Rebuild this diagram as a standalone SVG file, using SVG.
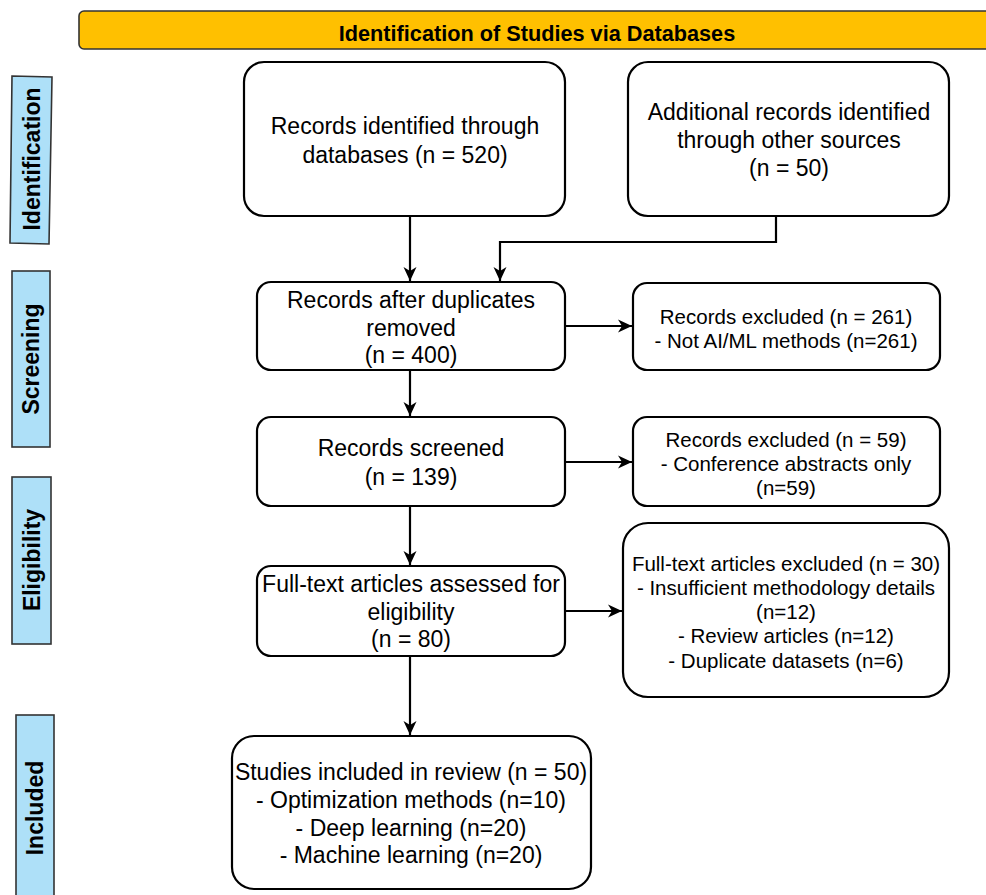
<svg xmlns="http://www.w3.org/2000/svg" width="986" height="895" viewBox="0 0 986 895">
<defs>
<marker id="arr" markerUnits="userSpaceOnUse" markerWidth="16" markerHeight="16" viewBox="0 0 16 16" refX="15" refY="8" orient="auto">
<path d="M1,1.5 L15,8 L1,14.5 L5,8 Z" fill="#000"/>
</marker>
<style>
.box{fill:#fff;stroke:#000;stroke-width:2.2}
.t{font-family:"Liberation Sans",Arial,sans-serif;font-size:23px;fill:#000;text-anchor:middle}
.s{font-family:"Liberation Sans",Arial,sans-serif;font-size:20.5px;fill:#000;text-anchor:middle}
.lab{fill:#AEE0F8;stroke:#333;stroke-width:1.6}
.lt{font-family:"Liberation Sans",Arial,sans-serif;font-size:23px;font-weight:bold;fill:#000;text-anchor:middle;dominant-baseline:central}
.c{fill:none;stroke:#000;stroke-width:2.2}
</style>
</defs>
<rect width="986" height="895" fill="#fff"/>

<g id="header">
<rect x="79" y="11" width="930" height="38" rx="5" fill="#FFC000" stroke="#333" stroke-width="1.6"/>
<text x="537" y="41" font-family="'Liberation Sans',Arial,sans-serif" font-size="21.7" font-weight="bold" text-anchor="middle">Identification of Studies via Databases</text>
</g>

<g id="label-identification">
<polygon class="lab" points="12,76 52,77 49,244 10,243"/>
<text class="lt" transform="translate(32,159) rotate(-90)">Identification</text>
</g>
<g id="label-screening">
<rect class="lab" x="12" y="271" width="38" height="176"/>
<text class="lt" transform="translate(31,359) rotate(-90)">Screening</text>
</g>
<g id="label-eligibility">
<rect class="lab" x="12" y="477" width="39" height="167"/>
<text class="lt" transform="translate(32,560) rotate(-90)">Eligibility</text>
</g>
<g id="label-included">
<rect class="lab" x="16" y="715" width="38" height="190"/>
<text class="lt" transform="translate(35,808) rotate(-90)">Included</text>
</g>

<g id="n-databases">
<rect class="box" x="244" y="62" width="321" height="154" rx="20"/>
<text class="t" x="405" y="134">Records identified through</text>
<text class="t" x="405" y="163">databases (n = 520)</text>
</g>
<g id="n-other">
<rect class="box" x="628" y="62" width="321" height="154" rx="20"/>
<text class="t" x="789" y="120">Additional records identified</text>
<text class="t" x="789" y="148">through other sources</text>
<text class="t" x="789" y="176">(n = 50)</text>
</g>
<g id="n-dedup">
<rect class="box" x="257" y="282" width="308" height="88" rx="14"/>
<text class="t" x="411" y="308">Records after duplicates</text>
<text class="t" x="411" y="336">removed</text>
<text class="t" x="411" y="363">(n = 400)</text>
</g>
<g id="n-excl1">
<rect class="box" x="633" y="283" width="307" height="87" rx="14"/>
<text class="s" x="786" y="324">Records excluded (n = 261)</text>
<text class="s" x="786" y="348">- Not AI/ML methods (n=261)</text>
</g>
<g id="n-screened">
<rect class="box" x="257" y="417" width="308" height="89" rx="14"/>
<text class="t" x="411" y="456">Records screened</text>
<text class="t" x="411" y="485">(n = 139)</text>
</g>
<g id="n-excl2">
<rect class="box" x="633" y="417" width="307" height="89" rx="14"/>
<text class="s" x="786" y="447">Records excluded (n = 59)</text>
<text class="s" x="786" y="471">- Conference abstracts only</text>
<text class="s" x="786" y="495">(n=59)</text>
</g>
<g id="n-fulltext">
<rect class="box" x="257" y="566" width="308" height="90" rx="14"/>
<text class="t" x="411" y="592">Full-text articles assessed for</text>
<text class="t" x="411" y="620">eligibility</text>
<text class="t" x="411" y="647">(n = 80)</text>
</g>
<g id="n-excl3">
<rect class="box" x="623" y="523" width="326" height="174" rx="25"/>
<text class="s" x="786" y="571">Full-text articles excluded (n = 30)</text>
<text class="s" x="786" y="595">- Insufficient methodology details</text>
<text class="s" x="786" y="619">(n=12)</text>
<text class="s" x="786" y="643">- Review articles (n=12)</text>
<text class="s" x="786" y="668">- Duplicate datasets (n=6)</text>
</g>
<g id="n-included">
<rect class="box" x="232" y="736" width="359" height="153" rx="22"/>
<text class="t" x="411" y="780">Studies included in review (n = 50)</text>
<text class="t" x="411" y="808">- Optimization methods (n=10)</text>
<text class="t" x="411" y="836">- Deep learning (n=20)</text>
<text class="t" x="411" y="863">- Machine learning (n=20)</text>
</g>

<g id="connectors">
<path class="c" d="M410,216 V281" marker-end="url(#arr)"/>
<path class="c" d="M776,216 V242 H500 V281" marker-end="url(#arr)"/>
<path class="c" d="M565,326 H632" marker-end="url(#arr)"/>
<path class="c" d="M410,370 V416" marker-end="url(#arr)"/>
<path class="c" d="M565,462 H632" marker-end="url(#arr)"/>
<path class="c" d="M410,506 V565" marker-end="url(#arr)"/>
<path class="c" d="M565,611 H622" marker-end="url(#arr)"/>
<path class="c" d="M410,656 V735" marker-end="url(#arr)"/>
</g>
</svg>
